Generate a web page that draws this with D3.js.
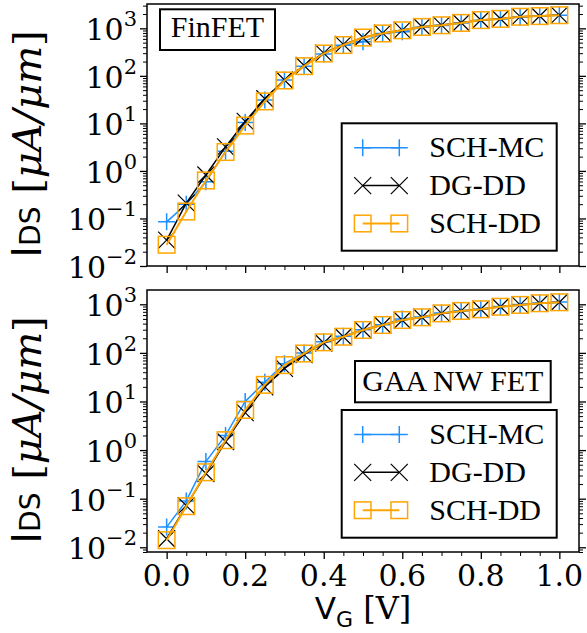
<!DOCTYPE html>
<html>
  <head>
    <meta charset="utf-8">
    <title>IDS vs VG</title>
    <style>
      body { margin: 0; background: white; }
      svg { display: block; }
    </style>
    <script src="https://d3js.org/d3.v7.min.js"></script>
  </head>
  <body>
    <svg id="chart"></svg>
    <script>
      // Gate voltage samples (V)
      const vg = [0, 0.05, 0.1, 0.15, 0.2, 0.25, 0.3, 0.35, 0.4, 0.45, 0.5,
                  0.55, 0.6, 0.65, 0.7, 0.75, 0.8, 0.85, 0.9, 0.95, 1.0];

      // FinFET currents (uA/um)
      const finSchMc = [0.085, 0.2, 0.59, 2.6, 10.5, 31, 82, 160, 290, 440, 520,
                        780, 850, 1060, 1150, 1300, 1480, 1580, 1740, 1820, 1880];
      const finDgDd  = [0.035, 0.21, 0.82, 3.2, 11, 33, 82, 165, 300, 460, 640,
                        790, 920, 1080, 1170, 1310, 1500, 1590, 1760, 1820, 1900];
      const finSchDd = [0.028, 0.14, 0.63, 2.5, 9, 29, 80, 160, 295, 445, 640,
                        780, 910, 1070, 1160, 1300, 1490, 1580, 1750, 1810, 1890];

      // GAA NW FET currents (uA/um)
      const gaaSchMc = [0.026, 0.09, 0.58, 2.0, 10, 25, 60, 100, 170, 220, 300,
                        380, 500, 550, 660, 740, 800, 900, 990, 1060, 1120];
      const gaaDgDd  = [0.015, 0.072, 0.33, 1.5, 5.9, 20, 48, 92, 160, 215, 296,
                        375, 470, 540, 650, 730, 790, 890, 970, 1050, 1100];
      const gaaSchDd = [0.014, 0.07, 0.35, 1.6, 6.7, 22, 56, 97, 165, 215, 296,
                        375, 475, 540, 650, 730, 790, 890, 970, 1050, 1100];

      const seriesNames = ['SCH-MC', 'DG-DD', 'SCH-DD'];
      const xTicks = [0, 0.2, 0.4, 0.6, 0.8, 1.0];
      const yTicks = [1e-2, 1e-1, 1e0, 1e1, 1e2, 1e3];
      const yExponents = ['\u22122', '\u22121', '0', '1', '2', '3'];

      const W = 587, H = 633;
      const left = 147, right = 579;
      const svg = d3.select('#chart').attr('width', W).attr('height', H);

      const x = d3.scaleLinear().domain([-0.05, 1.05]).range([left, right]);

      const styles = [
        { color: '#1e90ff', marker: 'plus', lw: 1.5 },
        { color: '#000000', marker: 'cross', lw: 1.5 },
        { color: '#ffa500', marker: 'square', lw: 2 }
      ];

      const panels = [
        { top: 4, bottom: 266, domain: [0.01, 3250], title: 'FinFET',
          data: [finSchMc, finDgDd, finSchDd],
          titleBox: [160, 9.3, 115, 40.7], titleBase: 36.7,
          legend: [341.7, 123.3, 215, 127.4], showX: false },
        { top: 290, bottom: 552, domain: [0.0080, 1968], title: 'GAA NW FET',
          data: [gaaSchMc, gaaDgDd, gaaSchDd],
          titleBox: [355, 361, 195.7, 41.3], titleBase: 391,
          legend: [341.7, 410, 215, 127.7], showX: true }
      ];

      function drawMarker(g, kind, cx, cy, color) {
        const h = 8.5;
        if (kind === 'plus') {
          g.append('path')
            .attr('d', `M${cx - h},${cy}H${cx + h}M${cx},${cy - h}V${cy + h}`)
            .attr('stroke', color).attr('stroke-width', 1.5).attr('fill', 'none');
        } else if (kind === 'cross') {
          const k = 8.5;
          g.append('path')
            .attr('d', `M${cx - k},${cy - k}L${cx + k},${cy + k}M${cx - k},${cy + k}L${cx + k},${cy - k}`)
            .attr('stroke', color).attr('stroke-width', 1.2).attr('fill', 'none');
        } else {
          g.append('rect')
            .attr('x', cx - 8.3).attr('y', cy - 8.3)
            .attr('width', 16.6).attr('height', 16.6)
            .attr('stroke', color).attr('stroke-width', 1.5).attr('fill', 'none');
        }
      }

      panels.forEach(p => {
        const y = d3.scaleLog().domain(p.domain).range([p.bottom, p.top]);
        const g = svg.append('g');

        // minor log ticks
        const minor = [];
        for (let e = -3; e <= 3; e++) {
          for (let m = 2; m <= 9; m++) {
            const v = m * Math.pow(10, e);
            if (v >= p.domain[0] && v <= p.domain[1]) minor.push(v);
          }
        }
        const xMinor = d3.range(0, 21).map(i => i * 0.05).filter((v, i) => i % 4 !== 0);

        const axisStyle = sel => {
          sel.select('.domain').remove();
          sel.selectAll('line').attr('stroke', '#000').attr('stroke-width', 1);
        };

        g.append('g').attr('transform', `translate(${left},0)`)
          .call(d3.axisLeft(y).tickValues(yTicks).tickSize(7).tickFormat(''))
          .call(axisStyle).selectAll('line').attr('stroke-width', 1.3);
        g.append('g').attr('transform', `translate(${left},0)`)
          .call(d3.axisLeft(y).tickValues(minor).tickSize(4).tickFormat(''))
          .call(axisStyle);
        g.append('g').attr('transform', `translate(${right},0)`)
          .call(d3.axisRight(y).tickValues(yTicks).tickSize(7).tickFormat(''))
          .call(axisStyle).selectAll('line').attr('stroke-width', 1.3);
        g.append('g').attr('transform', `translate(${right},0)`)
          .call(d3.axisRight(y).tickValues(minor).tickSize(4).tickFormat(''))
          .call(axisStyle);
        g.append('g').attr('transform', `translate(0,${p.bottom})`)
          .call(d3.axisBottom(x).tickValues(xTicks).tickSize(7).tickFormat(''))
          .call(axisStyle).selectAll('line').attr('stroke-width', 1.3);
        g.append('g').attr('transform', `translate(0,${p.bottom})`)
          .call(d3.axisBottom(x).tickValues(xMinor).tickSize(4).tickFormat(''))
          .call(axisStyle);

        // y tick labels 10^n
        yTicks.forEach((v, i) => {
          const t = g.append('text')
            .attr('x', 137).attr('y', y(v) + 12)
            .attr('text-anchor', 'end')
            .style('font-family', 'DejaVu Serif').style('font-size', '30px');
          t.append('tspan').text('10');
          t.append('tspan').attr('dy', -14).style('font-size', '21px').text(yExponents[i]);
        });

        if (p.showX) {
          xTicks.forEach(v => {
            g.append('text')
              .attr('x', x(v)).attr('y', p.bottom + 34)
              .attr('text-anchor', 'middle')
              .style('font-family', 'DejaVu Serif').style('font-size', '30px')
              .text(v.toFixed(1));
          });
        }

        // clip to plot area
        const clipId = 'clip' + p.top;
        svg.append('clipPath').attr('id', clipId).append('rect')
          .attr('x', left).attr('y', p.top)
          .attr('width', right - left).attr('height', p.bottom - p.top);
        const plot = g.append('g').attr('clip-path', `url(#${clipId})`);

        const line = d3.line().x((d, i) => x(vg[i])).y(d => y(d));
        p.data.forEach((s, k) => {
          const st = styles[k];
          plot.append('path').datum(s)
            .attr('d', line)
            .attr('fill', 'none')
            .attr('stroke', st.color).attr('stroke-width', st.lw);
          s.forEach((v, i) => drawMarker(plot, st.marker, x(vg[i]), y(v), st.color));
        });

        // frame
        g.append('rect')
          .attr('x', left).attr('y', p.top)
          .attr('width', right - left).attr('height', p.bottom - p.top)
          .attr('fill', 'none').attr('stroke', '#000').attr('stroke-width', 1.5);

        // title box
        const tb = p.titleBox;
        g.append('rect').attr('x', tb[0]).attr('y', tb[1]).attr('width', tb[2]).attr('height', tb[3])
          .attr('fill', 'white').attr('stroke', '#000').attr('stroke-width', 2);
        g.append('text').attr('x', tb[0] + tb[2] / 2).attr('y', p.titleBase)
          .attr('text-anchor', 'middle')
          .style('font-family', 'Liberation Serif').style('font-size', '30px')
          .text(p.title);

        // legend
        const lb = p.legend;
        g.append('rect').attr('x', lb[0]).attr('y', lb[1]).attr('width', lb[2]).attr('height', lb[3])
          .attr('fill', 'white').attr('stroke', '#000').attr('stroke-width', 2);
        seriesNames.forEach((name, k) => {
          const st = styles[k];
          const ry = lb[1] + 24.4 + k * 37.9;
          const x1 = lb[0] + 21, x2 = lb[0] + 57.6;
          g.append('line').attr('x1', x1).attr('x2', x2).attr('y1', ry).attr('y2', ry)
            .attr('stroke', st.color).attr('stroke-width', st.lw);
          drawMarker(g, st.marker, x1, ry, st.color);
          drawMarker(g, st.marker, x2, ry, st.color);
          g.append('text').attr('x', lb[0] + 87.6).attr('y', ry + 9.7)
            .style('font-family', 'Liberation Serif').style('font-size', '30px')
            .text(name);
        });

        // y label
        const yl = g.append('text')
          .attr('transform', `translate(41,${(p.top + p.bottom) / 2 + 9}) rotate(-90)`)
          .attr('text-anchor', 'middle');
        yl.append('tspan').style('font-family', 'DejaVu Sans').style('font-size', '40px').text('I');
        yl.append('tspan').style('font-family', 'DejaVu Sans').style('font-size', '28px').attr('dy', -1).text('DS');
        yl.append('tspan').style('font-family', 'DejaVu Serif').style('font-size', '40px').attr('dy', 1).text(' [');
        yl.append('tspan').style('font-family', 'DejaVu Serif').style('font-style', 'italic').style('font-size', '40px').text('\u03bcA/\u03bcm');
        yl.append('tspan').style('font-family', 'DejaVu Serif').style('font-size', '40px').text(']');
      });

      // x label
      const xl = svg.append('text')
        .attr('x', (left + right) / 2).attr('y', 619)
        .attr('text-anchor', 'middle');
      xl.append('tspan').style('font-family', 'DejaVu Sans').style('font-size', '31px').text('V');
      xl.append('tspan').style('font-family', 'DejaVu Sans').style('font-size', '22px').attr('dy', 8).text('G');
      xl.append('tspan').style('font-family', 'DejaVu Serif').style('font-size', '32px').attr('dy', -8).text(' [V]');
    </script>
  </body>
</html>
